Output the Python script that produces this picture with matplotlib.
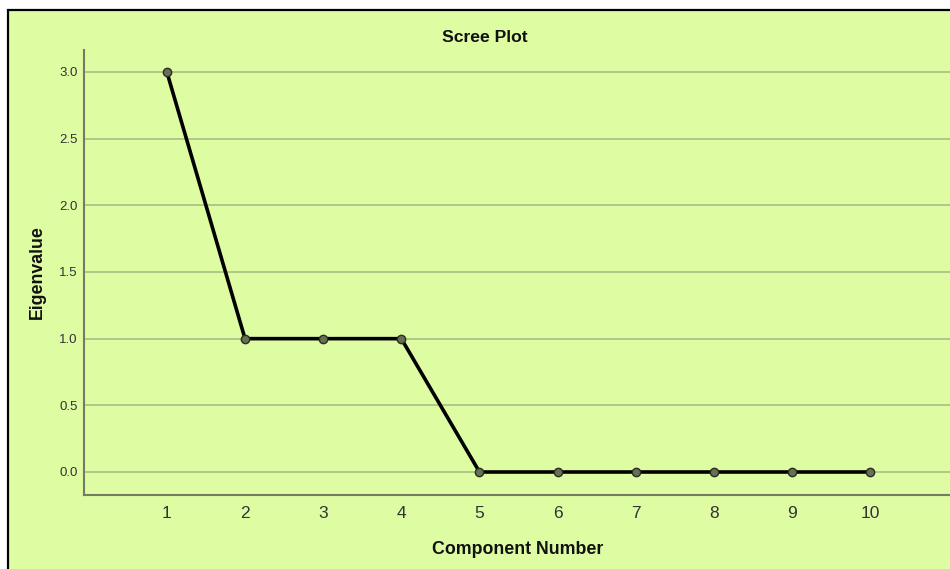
import matplotlib.pyplot as plt
from matplotlib.patches import Rectangle

plt.rcParams['font.family'] = ['Liberation Sans', 'DejaVu Sans']

components = [1, 2, 3, 4, 5, 6, 7, 8, 9, 10]
eigenvalues = [3.0, 1.0, 1.0, 1.0, 0.0, 0.0, 0.0, 0.0, 0.0, 0.0]
yticks = [0.0, 0.5, 1.0, 1.5, 2.0, 2.5, 3.0]

bg = "#DEFCA2"
W, H = 950, 569

fig = plt.figure(figsize=(9.5, 5.69), dpi=100)
fig.patch.set_facecolor("white")

# outer frame of the chart (cut off at right and bottom)
frame = Rectangle((8 / W, -0.05), 1.1, 1 - 10 / H + 0.05, transform=fig.transFigure,
                  facecolor=bg, edgecolor="black", linewidth=1.6, zorder=-5)
fig.patches.append(frame)

ax = fig.add_axes([84 / W, 1 - 495 / H, 1 - 84 / W, (495 - 50) / H])
ax.set_zorder(2)
ax.patch.set_alpha(0)

ax.plot(components, eigenvalues, color="black", linewidth=2.6, zorder=3,
        marker="o", markersize=6, markerfacecolor="#667052",
        markeredgecolor="#2a2e22", markeredgewidth=1, clip_on=False)

ax.set_xlim(-0.06, 11.02)
ax.set_ylim(-0.1725, 3.165)
ax.set_xticks(components)
ax.set_xticklabels([str(c) for c in components], fontsize=12.5, color="#333333")
ax.set_yticks(yticks)
ax.set_yticklabels(["%.1f" % v for v in yticks], fontsize=9.5, color="#333333")
ax.tick_params(axis="x", length=0, pad=8)
ax.tick_params(axis="y", length=0, pad=4.5)

ax.grid(axis="y", color="#a7bf84", linewidth=1.2)
ax.set_axisbelow(True)
for s in ["top", "right"]:
    ax.spines[s].set_visible(False)
for s in ["left", "bottom"]:
    ax.spines[s].set_color("#737b63")
    ax.spines[s].set_linewidth(1.5)

fig.text(485 / W, 1 - 37.5 / H, "Scree Plot", ha="center", va="center",
         fontsize=12.6, fontweight="bold", color="#111111")
fig.text(518 / W, 1 - 549 / H, "Component Number", ha="center", va="center",
         fontsize=12.8, fontweight="bold", color="#111111")
fig.text(37 / W, 1 - 272 / H, "Eigenvalue", ha="center", va="center",
         rotation=90, fontsize=12.8, fontweight="bold", color="#111111")

fig.savefig("out.png", dpi=100)
